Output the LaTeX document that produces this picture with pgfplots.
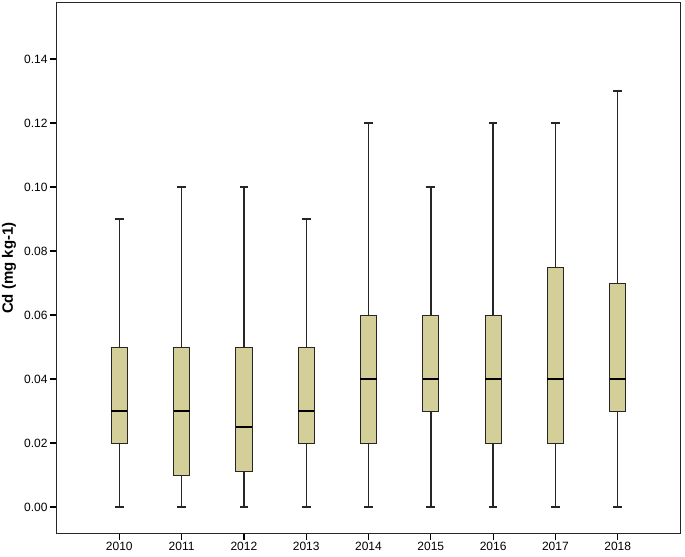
\documentclass[border=0pt]{standalone}
\usepackage{fontspec}
\setmainfont{Liberation Sans}
\usepackage{pgfplots}
\pgfplotsset{compat=1.18}
\usepgfplotslibrary{statistics}
\definecolor{boxfill}{HTML}{D4CF98}

\begin{document}
\begin{tikzpicture}
\begin{axis}[
  scale only axis,width=623bp,height=530bp,
  xmin=-1,xmax=9,ymin=-0.0081,ymax=0.1575,
  xtick={0,...,8},
  xticklabels={2010,2011,2012,2013,2014,2015,2016,2017,2018},
  ytick={0,0.02,...,0.14},
  yticklabel style={xshift=1bp,/pgf/number format/.cd,fixed,fixed zerofill,precision=2},
  /pgf/number format/assume math mode=true,
  tick pos=left,tick align=outside,major tick length=7bp,
  every tick/.style={black,line width=1.2bp},
  axis line style={black!85,line width=1bp},
  tick label style={font=\fontsize{12bp}{14bp}\selectfont},
  xticklabel style={yshift=1bp},
  ylabel={\textbf{Cd (mg kg-1)}},
  ylabel style={at={(rel axis cs:0,0.5)},anchor=center,yshift=48bp,
    font=\fontsize{15bp}{17bp}\selectfont},
  boxplot/draw direction=y,
  boxplot/box extend=0.26,
  boxplot/whisker extend=0.14,
  boxplot/every box/.style={fill=boxfill,draw=black!85,line width=0.9bp},
  boxplot/every whisker/.style={black!85,line width=1.4bp},
  boxplot/every median/.style={black,line width=2bp},
  clip=false,
]
\addplot[boxplot prepared={lower whisker=0,lower quartile=0.02,median=0.03,upper quartile=0.05,upper whisker=0.09,draw position=0}] coordinates {};
\addplot[boxplot prepared={lower whisker=0,lower quartile=0.01,median=0.03,upper quartile=0.05,upper whisker=0.10,draw position=1}] coordinates {};
\addplot[boxplot prepared={lower whisker=0,lower quartile=0.011,median=0.025,upper quartile=0.05,upper whisker=0.10,draw position=2}] coordinates {};
\addplot[boxplot prepared={lower whisker=0,lower quartile=0.02,median=0.03,upper quartile=0.05,upper whisker=0.09,draw position=3}] coordinates {};
\addplot[boxplot prepared={lower whisker=0,lower quartile=0.02,median=0.04,upper quartile=0.06,upper whisker=0.12,draw position=4}] coordinates {};
\addplot[boxplot prepared={lower whisker=0,lower quartile=0.03,median=0.04,upper quartile=0.06,upper whisker=0.10,draw position=5}] coordinates {};
\addplot[boxplot prepared={lower whisker=0,lower quartile=0.02,median=0.04,upper quartile=0.06,upper whisker=0.12,draw position=6}] coordinates {};
\addplot[boxplot prepared={lower whisker=0,lower quartile=0.02,median=0.04,upper quartile=0.075,upper whisker=0.12,draw position=7}] coordinates {};
\addplot[boxplot prepared={lower whisker=0,lower quartile=0.03,median=0.04,upper quartile=0.07,upper whisker=0.13,draw position=8}] coordinates {};
\end{axis}
\path (current axis.south west) ++(-57bp,-24bp) coordinate (bbsw);
\path (current axis.north east) ++(5bp,3bp) coordinate (bbne);
\pgfresetboundingbox
\path[use as bounding box] (bbsw) rectangle (bbne);
\end{tikzpicture}
\end{document}
